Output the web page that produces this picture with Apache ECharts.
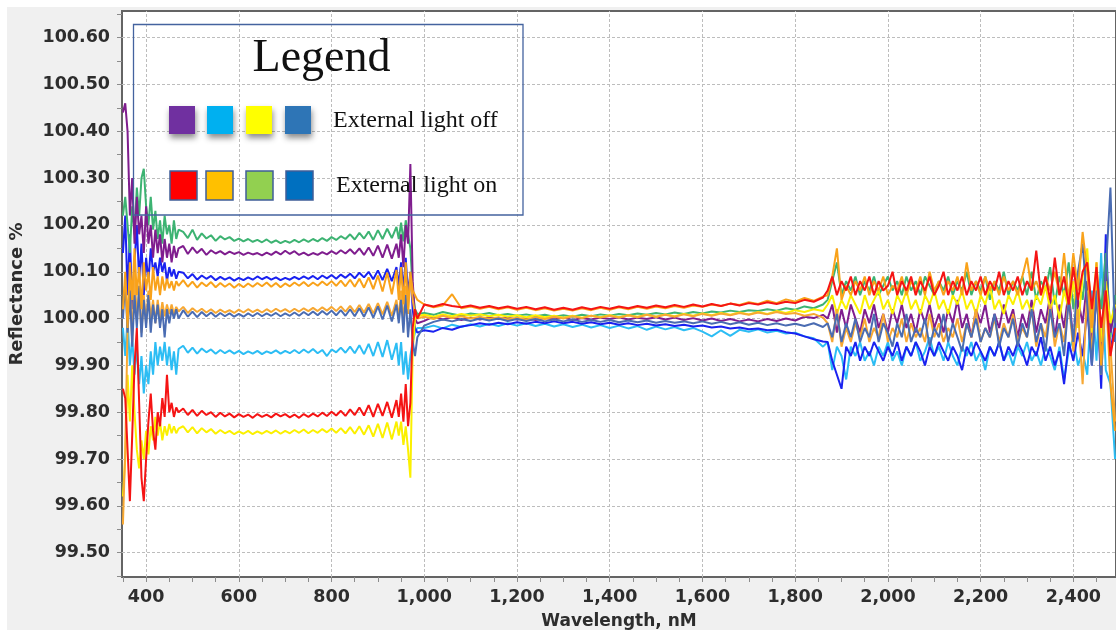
<!DOCTYPE html>
<html>
<head>
<meta charset="utf-8">
<title>Reflectance %</title>
<script src="https://cdn.jsdelivr.net/npm/echarts@6/dist/echarts.min.js"></script>
<style>
  html, body { margin: 0; padding: 0; background: #ffffff; }
  #chart { width: 1116px; height: 637px; }
</style>
</head>
<body>
<div id="chart"></div>
<script>
// Wavelength sampling (nm), per spectral region
const wlEdge = [350,355,360,365,370,375,380,385,390,395,400,405,410,415,420,425,430,435,440,445,450,455,460,465,470];
const wlVis = [480,490,500,510,520,530,540,550,560,570,580,590,600,610,620,630,640,650,660,670,680,690,700,
  710,720,730,740,750,760,770,780,790,800,810,820,830,840,850,860,870,880,890,900,910,920,930,940];
const wlCut = [945,950,955,960,965,970,975,980,985];
const wlNir = [1000,1020,1040,1060,1080,1100,1120,1140,1160,1180,1200,1220,1240,1260,1280,1300,1320,1340,1360,1380,1400,1420,
  1440,1460,1480,1500,1520,1540,1560,1580,1600,1620,1640,1660,1680,1700,1720,1740,1760,1780,1800,1820,1840,1860];
const wlSwir = [1870,1880,1890,1900,1910,1920,1930,1940,1950,1960,1970,1980,1990,2000,2010,2020,2030,2040,2050,2060,2070,2080,2090,2100,2110,2120,2130,2140,2150,2160,2170,
  2180,2190,2200,2210,2220,2230,2240,2250,2260,2270,2280,2290,2300,2310,2320,2330,2340,2350,2360,2370,2380,2390,2400,2410,2420,2430,2440,2450,2460,2470,2480,2490];

// Axis ticks
const xTicks = [400,600,800,1000,1200,1400,1600,1800,2000,2200,2400];
const xMinorTicks = [350,400,450,500,550,600,650,700,750,800,850,900,950,1000,1050,1100,1150,1200,1250,1300,1350,1400,
  1450,1500,1550,1600,1650,1700,1750,1800,1850,1900,1950,2000,2050,2100,2150,2200,2250,2300,2350,2400,2450];
const yTicks = [99.5,99.6,99.7,99.8,99.9,100.0,100.1,100.2,100.3,100.4,100.5,100.6];
const yMinorTicks = [99.45,99.5,99.55,99.6,99.65,99.7,99.75,99.8,99.85,99.9,99.95,100.0,100.05,100.1,100.15,100.2,100.25,100.3,100.35,100.4,100.45,100.5,100.55,100.6,100.65];

// Reflectance traces (%), one value per wavelength sample
const traceGreen = [
  100.22,100.26,100.20,100.14,100.24,100.18,100.28,100.22,100.30,100.32,100.24,100.20,100.26,100.19,100.23,100.17,100.21,100.16,100.22,100.18,100.20,100.16,100.21,100.17,100.19,
  100.185,100.172,100.190,100.168,100.182,100.171,100.178,100.166,100.176,100.169,100.174,100.166,100.171,100.165,100.170,100.164,100.168,100.163,100.169,100.162,100.167,100.161,100.166,
  100.162,100.168,100.163,100.169,100.164,100.170,100.165,100.172,100.166,100.174,100.168,100.176,100.170,100.180,100.169,100.183,100.171,100.186,100.168,100.189,100.170,100.192,100.172,100.196,
  100.17,100.205,100.165,100.21,100.18,100.15,100.06,100.02,100.01,
  100.012,100.008,100.014,100.010,100.006,100.011,100.008,100.012,100.007,100.010,100.006,100.009,100.005,100.008,100.004,100.007,100.004,100.008,100.005,100.009,100.006,100.010,
  100.007,100.011,100.008,100.012,100.009,100.013,100.010,100.014,100.011,100.015,100.013,100.017,100.014,100.018,100.016,100.020,100.017,100.022,100.019,100.026,100.022,100.030,
  100.04,100.08,100.12,100.05,100.08,100.06,100.09,100.05,100.08,100.06,100.09,100.05,100.07,100.09,100.06,100.08,100.05,100.09,100.06,100.08,100.05,100.09,100.07,100.05,100.08,100.06,100.09,100.05,100.08,100.06,100.10,
  100.05,100.08,100.06,100.09,100.04,100.08,100.06,100.10,100.05,100.08,100.06,100.09,100.05,100.10,100.04,100.08,100.06,100.11,100.03,100.09,100.05,100.12,100.02,100.10,100.04,100.13,99.98,100.09,100.02,100.14,99.96,100.05
];
const tracePurple = [
  100.44,100.46,100.40,100.22,100.30,100.16,100.26,100.18,100.22,100.14,100.24,100.16,100.20,100.13,100.19,100.14,100.18,100.12,100.17,100.13,100.16,100.12,100.155,100.13,100.15,
  100.155,100.138,100.152,100.140,100.149,100.136,100.146,100.139,100.144,100.137,100.143,100.138,100.142,100.136,100.141,100.137,100.140,100.135,100.141,100.136,100.143,100.137,100.145,
  100.138,100.144,100.136,100.141,100.135,100.140,100.136,100.142,100.137,100.144,100.138,100.146,100.139,100.148,100.138,100.150,100.136,100.152,100.134,100.156,100.130,100.158,100.128,100.160,
  100.13,100.18,100.11,100.20,100.16,100.33,100.08,100.00,99.99,
  99.995,100.004,99.998,100.003,99.997,100.002,99.998,100.003,99.999,100.002,99.998,100.001,99.997,100.001,99.998,100.002,99.997,100.001,99.998,100.002,99.999,100.003,
  99.998,100.002,99.999,100.003,99.998,100.002,99.997,100.001,99.996,100.000,99.995,99.999,99.994,99.998,99.994,99.999,99.995,100.000,99.996,100.004,100.001,100.008,
  100.00,100.03,99.97,100.02,99.98,100.03,100.00,99.97,100.02,99.99,100.03,99.98,100.01,99.97,100.02,99.99,100.03,99.98,100.01,99.97,100.02,99.99,100.03,99.98,100.01,99.97,100.02,99.99,100.04,99.98,100.01,
  99.96,100.02,99.99,100.03,99.97,100.01,99.98,100.03,99.99,100.02,99.96,100.01,99.98,100.04,99.97,100.02,99.99,100.05,99.96,100.03,99.98,100.06,99.95,100.04,99.99,100.08,99.94,100.05,99.92,100.10,99.97,100.02
];
const traceBlue = [
  100.14,100.22,100.05,100.18,100.02,100.12,100.20,100.08,100.16,100.05,100.13,100.08,100.15,100.10,100.12,100.09,100.13,100.10,100.12,100.08,100.11,100.09,100.105,100.085,100.10,
  100.098,100.086,100.095,100.083,100.092,100.085,100.091,100.082,100.089,100.083,100.088,100.081,100.087,100.082,100.088,100.083,100.090,100.084,100.089,100.083,100.088,100.082,100.087,
  100.083,100.089,100.084,100.090,100.085,100.091,100.084,100.092,100.086,100.093,100.085,100.094,100.087,100.096,100.086,100.098,100.088,100.100,100.084,100.103,100.082,100.106,100.080,100.110,
  100.07,100.12,100.06,100.13,100.05,100.10,100.02,99.98,99.97,
  99.975,99.972,99.980,99.976,99.983,99.986,99.990,99.987,99.991,99.988,99.992,99.989,99.993,99.990,99.994,99.990,99.993,99.989,99.992,99.988,99.991,99.987,
  99.990,99.986,99.989,99.985,99.988,99.984,99.987,99.983,99.985,99.981,99.983,99.979,99.981,99.977,99.979,99.975,99.976,99.971,99.968,99.962,99.956,99.951,
  99.95,99.91,99.88,99.85,99.94,99.92,99.95,99.91,99.94,99.92,99.95,99.93,99.91,99.94,99.92,99.95,99.91,99.94,99.92,99.95,99.93,99.90,99.94,99.92,99.95,99.93,99.91,99.94,99.92,99.89,99.94,
  99.92,99.95,99.93,99.91,99.94,99.92,99.95,99.91,99.94,99.92,99.95,99.93,99.90,99.94,99.92,99.96,99.91,99.94,99.90,99.93,99.86,99.95,99.91,99.97,99.92,100.02,99.90,100.08,99.85,100.18,99.93,99.99
];
const traceOrangeHigh = [
  100.02,100.10,99.98,100.12,100.04,100.15,100.05,100.11,100.02,100.12,100.06,100.10,100.04,100.11,100.06,100.09,100.05,100.09,100.06,100.085,100.065,100.08,100.06,100.08,100.07,
  100.082,100.068,100.079,100.066,100.077,100.069,100.078,100.067,100.076,100.068,100.075,100.066,100.074,100.067,100.075,100.068,100.076,100.069,100.077,100.068,100.076,100.067,100.075,
  100.069,100.077,100.070,100.078,100.069,100.077,100.070,100.079,100.071,100.080,100.070,100.081,100.069,100.083,100.068,100.085,100.066,100.088,100.063,100.092,100.058,100.098,100.052,100.104,
  100.04,100.11,100.03,100.12,100.02,100.10,100.06,100.05,100.04,
  100.030,100.024,100.028,100.052,100.022,100.026,100.021,100.025,100.020,100.024,100.019,100.023,100.018,100.022,100.017,100.021,100.017,100.022,100.018,100.023,100.019,100.024,
  100.020,100.025,100.021,100.026,100.022,100.027,100.023,100.028,100.025,100.030,100.027,100.032,100.029,100.035,100.031,100.038,100.033,100.041,100.036,100.044,100.038,100.047,
  100.05,100.09,100.15,100.04,100.07,100.05,100.08,100.06,100.09,100.05,100.08,100.06,100.09,100.05,100.07,100.06,100.09,100.05,100.08,100.06,100.09,100.05,100.10,100.06,100.08,100.05,100.08,100.06,100.09,100.05,100.12,
  100.06,100.08,100.05,100.09,100.06,100.08,100.05,100.09,100.06,100.08,100.05,100.09,100.13,100.06,100.08,100.05,100.09,100.06,100.10,100.05,100.14,100.04,100.14,100.06,100.185,100.10,99.98,100.12,99.90,100.06,99.86,99.76
];
const traceOrangeLow = [
  99.56,99.72,99.98,100.08,99.95,100.10,100.00,100.06,99.97,100.05,99.99,100.06,100.00,100.04,99.99,100.04,100.00,100.035,100.005,100.03,100.01,100.03,100.01,100.025,100.015,
  100.025,100.012,100.022,100.014,100.021,100.013,100.020,100.012,100.019,100.013,100.018,100.012,100.019,100.013,100.020,100.014,100.019,100.013,100.020,100.014,100.021,100.015,100.020,
  100.014,100.021,100.015,100.022,100.016,100.023,100.016,100.024,100.017,100.025,100.016,100.026,100.015,100.027,100.014,100.029,100.013,100.031,100.011,100.033,100.009,100.036,100.006,100.040,
  100.00,100.06,99.99,100.07,100.01,100.09,100.04,100.01,100.00,
  100.004,99.999,100.006,100.001,100.005,100.000,100.004,99.999,100.003,99.998,100.002,99.998,100.003,99.999,100.004,100.000,100.005,100.001,100.006,100.002,100.006,100.002,
  100.007,100.003,100.008,100.004,100.008,100.004,100.009,100.005,100.010,100.006,100.011,100.007,100.012,100.008,100.013,100.009,100.014,100.010,100.012,100.006,100.010,100.002,
  99.99,99.95,100.02,99.94,99.98,99.95,99.99,99.96,100.00,99.95,99.98,99.96,100.01,99.95,99.98,99.96,100.00,99.95,99.99,99.96,99.98,99.95,100.01,99.96,99.99,99.95,99.98,99.96,100.00,99.95,99.99,
  99.96,100.02,99.95,99.98,99.96,100.00,99.95,99.99,99.96,100.01,99.95,99.98,99.96,100.02,99.94,99.99,99.96,100.03,99.94,99.99,99.95,100.04,99.93,100.02,99.86,100.06,99.92,100.10,99.88,100.04,99.94,99.78
];
const traceSteel = [
  100.00,100.08,99.97,100.06,99.94,100.05,99.98,100.07,99.96,100.04,99.98,100.05,99.97,100.03,99.99,100.03,99.98,100.02,99.96,100.02,99.99,100.02,100.00,100.02,100.00,
  100.018,100.004,100.015,100.003,100.014,100.005,100.013,100.004,100.012,100.005,100.011,100.004,100.010,100.004,100.011,100.005,100.012,100.005,100.011,100.006,100.012,100.005,100.011,
  100.006,100.013,100.006,100.014,100.007,100.015,100.007,100.016,100.008,100.017,100.007,100.018,100.006,100.020,100.005,100.022,100.004,100.024,100.002,100.026,99.998,100.028,99.994,100.030,
  99.99,100.04,99.97,100.05,99.96,100.02,99.95,99.92,99.96,
  99.985,99.993,99.998,99.994,99.999,99.995,100.000,99.996,100.000,99.995,99.999,99.995,99.999,99.994,99.998,99.994,99.998,99.993,99.997,99.993,99.997,99.992,
  99.996,99.992,99.996,99.991,99.995,99.991,99.994,99.990,99.994,99.989,99.993,99.988,99.992,99.987,99.991,99.986,99.990,99.985,99.989,99.984,99.990,99.982,
  99.99,99.96,100.01,99.95,99.99,99.96,100.00,99.95,99.98,99.96,100.01,99.95,99.99,99.97,99.94,99.99,99.96,100.01,99.95,99.98,99.96,100.00,99.94,99.98,99.96,100.01,99.95,99.99,99.96,99.93,99.99,
  99.96,100.00,99.95,99.98,99.96,100.01,99.94,99.98,99.96,100.00,99.94,99.99,99.96,100.02,99.95,99.99,99.93,100.02,99.96,99.99,99.92,100.04,99.95,100.10,100.16,100.03,99.90,100.06,99.88,100.10,100.28,99.95
];
const traceCyan = [
  99.98,99.92,100.00,99.90,99.96,99.88,99.94,99.86,99.92,99.84,99.90,99.86,99.93,99.88,99.95,99.90,99.94,99.91,99.95,99.90,99.94,99.89,99.93,99.88,99.935,
  99.942,99.927,99.938,99.925,99.936,99.928,99.934,99.925,99.933,99.926,99.932,99.925,99.931,99.924,99.930,99.925,99.931,99.924,99.930,99.926,99.932,99.925,99.931,
  99.926,99.933,99.926,99.934,99.927,99.935,99.926,99.933,99.920,99.934,99.928,99.938,99.927,99.940,99.926,99.943,99.924,99.946,99.920,99.950,99.918,99.954,99.912,99.948,
  99.90,99.95,99.88,99.93,99.87,99.92,99.95,99.97,99.98,
  99.980,99.985,99.979,99.987,99.982,99.988,99.983,99.989,99.984,99.990,99.985,99.990,99.984,99.989,99.983,99.988,99.982,99.987,99.981,99.986,99.980,99.985,
  99.979,99.984,99.976,99.983,99.977,99.982,99.975,99.980,99.972,99.962,99.975,99.963,99.976,99.972,99.977,99.970,99.974,99.968,99.970,99.962,99.958,99.940,
  99.95,99.89,99.94,99.92,99.87,99.94,99.92,99.95,99.91,99.93,99.90,99.94,99.92,99.95,99.91,99.93,99.90,99.94,99.92,99.95,99.91,99.93,99.96,99.92,99.94,99.91,99.95,99.92,99.90,99.94,99.92,
  99.95,99.91,99.93,99.89,99.94,99.92,99.95,99.91,99.93,99.90,99.94,99.92,99.95,99.91,99.93,99.90,99.94,99.92,99.89,99.94,99.87,99.93,99.96,99.90,99.93,99.88,100.06,99.91,100.14,99.89,99.86,99.70
];
const traceRed = [
  99.85,99.83,99.72,99.61,99.75,99.90,99.98,99.82,99.66,99.61,99.70,99.78,99.84,99.76,99.72,99.80,99.77,99.83,99.79,99.88,99.80,99.82,99.79,99.81,99.80,
  99.808,99.794,99.805,99.792,99.803,99.794,99.800,99.790,99.799,99.791,99.797,99.789,99.796,99.790,99.795,99.788,99.796,99.790,99.795,99.789,99.797,99.791,99.796,
  99.789,99.795,99.788,99.796,99.790,99.797,99.791,99.799,99.792,99.801,99.793,99.803,99.792,99.806,99.794,99.810,99.793,99.815,99.790,99.818,99.792,99.822,99.788,99.826,
  99.79,99.84,99.78,99.86,99.77,99.82,99.98,100.02,100.00,
  100.030,100.026,100.031,100.027,100.024,100.028,100.023,100.027,100.022,100.026,100.021,100.025,100.020,100.024,100.019,100.023,100.019,100.024,100.020,100.025,100.021,100.026,
  100.022,100.027,100.023,100.028,100.024,100.029,100.025,100.030,100.026,100.031,100.027,100.032,100.028,100.033,100.030,100.035,100.031,100.036,100.033,100.040,100.036,100.045,
  100.06,100.09,100.05,100.08,100.06,100.09,100.05,100.08,100.06,100.09,100.05,100.08,100.06,100.07,100.10,100.05,100.08,100.06,100.09,100.05,100.08,100.06,100.09,100.05,100.07,100.10,100.05,100.08,100.06,100.09,100.05,
  100.08,100.06,100.09,100.05,100.08,100.06,100.10,100.05,100.08,100.06,100.09,100.05,100.08,100.06,100.145,100.05,100.09,100.04,100.13,100.05,100.09,100.03,100.11,100.04,100.10,100.12,100.02,100.11,99.98,100.06,99.92,99.98
];
const traceYellow = [
  99.62,99.70,99.88,99.78,99.90,99.80,99.72,99.68,99.74,99.70,99.76,99.71,99.77,99.74,99.79,99.75,99.78,99.74,99.77,99.75,99.775,99.755,99.77,99.755,99.765,
  99.770,99.757,99.768,99.755,99.766,99.757,99.764,99.754,99.762,99.755,99.760,99.753,99.759,99.754,99.760,99.753,99.759,99.754,99.760,99.755,99.761,99.754,99.760,
  99.755,99.762,99.756,99.763,99.755,99.762,99.756,99.764,99.757,99.765,99.756,99.766,99.755,99.768,99.754,99.770,99.752,99.772,99.748,99.775,99.745,99.778,99.742,99.780,
  99.75,99.78,99.73,99.77,99.72,99.66,99.93,100.00,100.005,
  100.008,100.004,100.009,100.005,100.010,100.006,100.009,100.005,100.008,100.004,100.007,100.003,100.007,100.003,100.006,100.002,100.006,100.002,100.006,100.003,100.007,100.003,
  100.007,100.004,100.008,100.004,100.009,100.005,100.010,100.006,100.011,100.007,100.012,100.008,100.013,100.009,100.014,100.010,100.016,100.012,100.018,100.014,100.020,100.016,
  100.03,100.05,100.01,100.04,100.02,100.05,100.03,100.01,100.05,100.02,100.04,100.06,100.02,100.04,100.01,100.05,100.03,100.06,100.02,100.04,100.01,100.05,100.03,100.06,100.02,100.04,100.01,100.05,100.03,100.06,100.02,
  100.04,100.01,100.05,100.03,100.07,100.02,100.04,100.01,100.05,100.03,100.06,100.02,100.04,100.01,100.05,100.03,100.07,100.02,100.05,100.00,100.06,100.02,100.08,99.98,100.09,100.15,99.97,100.12,99.95,100.08,99.99,100.03
];

// Legend annotation content
const legendTitle = 'Legend';
const legendLabels = ['External light off', 'External light on'];
const legendOffColors = ['#7030a0', '#00b0f0', '#ffff00', '#2e75b6'];
const legendOnColors = ['#ff0000', '#ffc000', '#92d050', '#0070c0'];

const wavelength = [].concat(wlEdge, wlVis, wlCut, wlNir, wlSwir);

// Draw order of the traces and their line colours
const traces = [
  { name: 'Trace cyan', values: traceCyan, color: '#2cbdf4' },
  { name: 'Trace blue', values: traceBlue, color: '#1a22f0' },
  { name: 'Trace green', values: traceGreen, color: '#3db372' },
  { name: 'Trace purple', values: tracePurple, color: '#7f1d8e' },
  { name: 'Trace yellow', values: traceYellow, color: '#fbf000' },
  { name: 'Trace orange 2', values: traceOrangeLow, color: '#f7a833' },
  { name: 'Trace steel', values: traceSteel, color: '#4a6cb2' },
  { name: 'Trace orange 1', values: traceOrangeHigh, color: '#f9a21a' },
  { name: 'Trace red', values: traceRed, color: '#f51414' }
];

function pairs(values) {
  const out = [];
  for (let i = 0; i < wavelength.length && i < values.length; i++) {
    out.push([wavelength[i], values[i]]);
  }
  return out;
}

const labelFont = { fontFamily: 'DejaVu Sans', fontWeight: 'bold', fontSize: 17.5, color: '#2d2d2d' };

const series = [{
  // guide lines of the plot area, placed beneath the traces
  type: 'line',
  name: 'guides',
  data: [],
  silent: true,
  markLine: {
    silent: true,
    z: 1,
    animation: false,
    symbol: ['none', 'none'],
    label: { show: false },
    emphasis: { disabled: true },
    lineStyle: { color: '#bdbdbd', type: [3, 2], width: 1 },
    data: yTicks.map(v => ({ yAxis: v })).concat(xTicks.map(v => ({ xAxis: v })))
  }
}].concat(traces.map(t => ({
  type: 'line',
  name: t.name,
  data: pairs(t.values),
  showSymbol: false,
  symbol: 'none',
  silent: true,
  z: 2,
  lineStyle: { width: 2, color: t.color },
  itemStyle: { color: t.color }
})));

// Legend box: frame, title, swatch rows and labels
const graphics = [
  { type: 'rect', z: -10, silent: true, shape: { x: 7, y: 7, width: 1109, height: 623 }, style: { fill: '#f0f0f0' } },
  { type: 'rect', z: 20, silent: true, shape: { x: 133.5, y: 24.5, width: 389.5, height: 190.5 }, style: { fill: 'none', stroke: '#44639f', lineWidth: 1.3 } },
  { type: 'text', z: 20, silent: true, x: 321.5, y: 59, style: { text: legendTitle, font: '46px "Liberation Serif"', fill: '#111', align: 'center', verticalAlign: 'middle' } },
  { type: 'text', z: 20, silent: true, x: 333, y: 121, style: { text: legendLabels[0], font: '24px "Liberation Serif"', fill: '#111', align: 'left', verticalAlign: 'middle' } },
  { type: 'text', z: 20, silent: true, x: 336, y: 186, style: { text: legendLabels[1], font: '24px "Liberation Serif"', fill: '#111', align: 'left', verticalAlign: 'middle' } }
];
const offX = [169, 207, 246, 285];
legendOffColors.forEach((c, i) => {
  graphics.push({ type: 'rect', z: 20, silent: true, shape: { x: offX[i], y: 106, width: 26, height: 28 },
    style: { fill: c, shadowBlur: 6, shadowOffsetX: 1, shadowOffsetY: 4, shadowColor: 'rgba(0,0,0,0.45)' } });
});
const onX = [170, 206, 246, 286];
legendOnColors.forEach((c, i) => {
  graphics.push({ type: 'rect', z: 20, silent: true, shape: { x: onX[i], y: 171, width: 27, height: 29 },
    style: { fill: c, stroke: '#3f5d98', lineWidth: 1.5 } });
});

const chart = echarts.init(document.getElementById('chart'), null, { renderer: 'canvas' });
chart.setOption({
  animation: false,
  backgroundColor: '#ffffff',
  textStyle: { fontFamily: 'DejaVu Sans' },
  grid: {
    left: 122, top: 11, right: -2, bottom: 60,
    show: true, backgroundColor: '#ffffff', borderColor: '#646464', borderWidth: 2
  },
  xAxis: {
    type: 'value',
    min: 348,
    max: 2492,
    name: 'Wavelength, nM',
    nameLocation: 'middle',
    nameGap: 36,
    nameTextStyle: Object.assign({}, labelFont, { fontSize: 17 }),
    axisLine: { show: false },
    axisTick: { show: true, inside: false, length: 5, customValues: xMinorTicks, lineStyle: { color: '#8c8c8c' } },
    axisLabel: Object.assign({ customValues: xTicks, margin: 11, formatter: v => Number(v).toLocaleString('en-US') }, labelFont),
    splitLine: { show: false }
  },
  yAxis: {
    type: 'value',
    min: 99.448,
    max: 100.657,
    name: 'Reflectance %',
    nameLocation: 'middle',
    nameGap: 96,
    nameTextStyle: Object.assign({}, labelFont, { fontSize: 18 }),
    axisLine: { show: false },
    axisTick: { show: true, inside: false, length: 5, customValues: yMinorTicks, lineStyle: { color: '#8c8c8c' } },
    axisLabel: Object.assign({ customValues: yTicks, margin: 12, formatter: v => Number(v).toFixed(2) }, labelFont),
    splitLine: { show: false }
  },
  graphic: graphics,
  series: series
});
</script>
</body>
</html>
